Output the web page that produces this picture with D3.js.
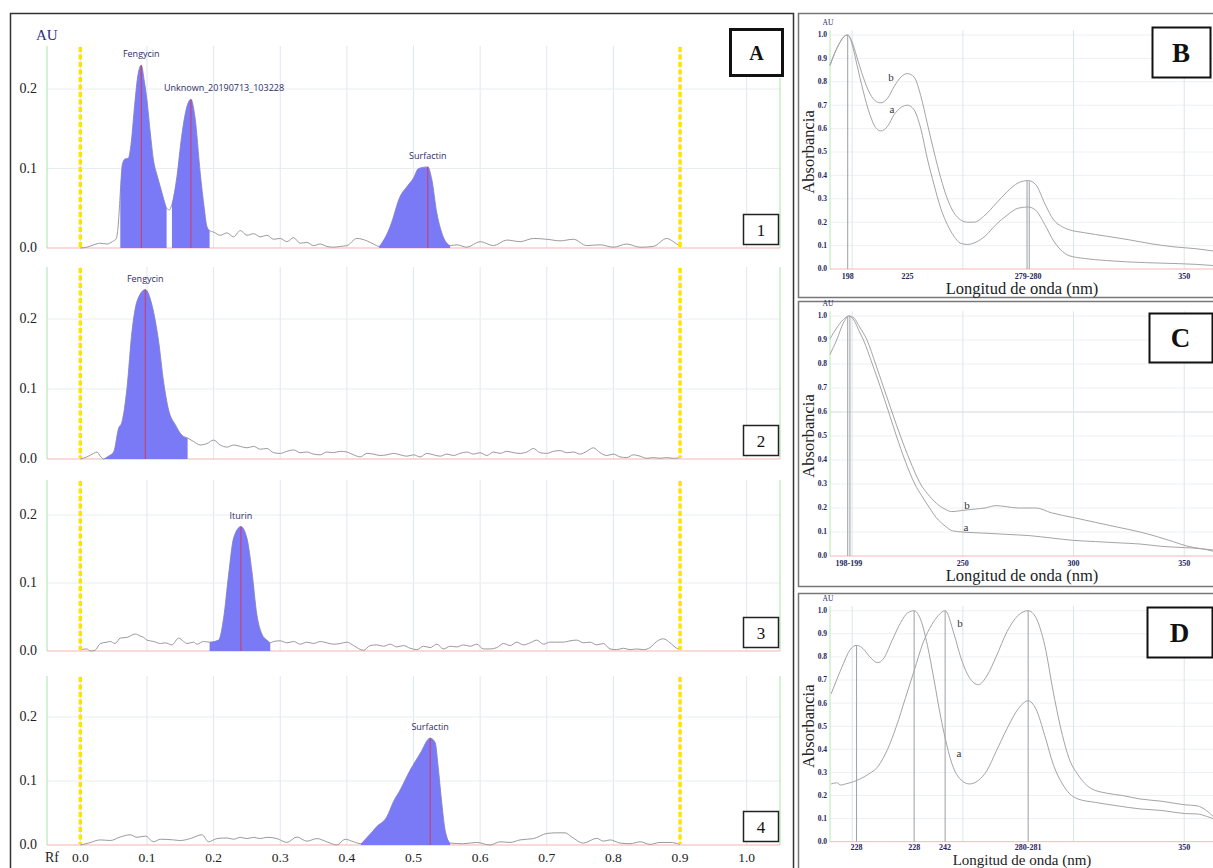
<!DOCTYPE html>
<html>
<head>
<meta charset="utf-8">
<script src="https://cdn.jsdelivr.net/npm/d3@7"></script>
<style>
  body { margin: 0; background: #fff; }
  svg { display: block; }
</style>
</head>
<body>
<svg id="chart" width="1213" height="868"></svg>
<script>
// ---------- Panel A: TLC densitograms, [Rf, AU] ----------
const trace1 = [
  [0,0],[0.01,0.001],[0.02,0.004],[0.03,0.006],[0.04,0.005],[0.048,0.008],[0.054,0.012],[0.057,0.03],
  [0.06,0.07],[0.063,0.105],[0.067,0.112],[0.072,0.113],[0.076,0.13],[0.081,0.175],[0.086,0.215],
  [0.0915,0.23],[0.096,0.21],[0.1,0.186],[0.105,0.145],[0.1095,0.112],[0.115,0.092],[0.12,0.077],
  [0.125,0.062],[0.1295,0.05],[0.1335,0.048],[0.1375,0.055],[0.145,0.09],[0.152,0.14],[0.16,0.178],
  [0.166,0.187],[0.172,0.165],[0.18,0.094],[0.186,0.05],[0.19,0.027],[0.194,0.022],[0.2,0.02],
  [0.21,0.016],[0.22,0.019],[0.23,0.014],[0.24,0.022],[0.25,0.016],[0.26,0.018],[0.27,0.014],
  [0.28,0.016],[0.29,0.011],[0.3,0.012],[0.31,0.008],[0.32,0.013],[0.33,0.006],[0.34,0.007],
  [0.35,0.003],[0.36,0.005],[0.37,0.002],[0.38,0.001],[0.39,0.002],[0.4,0.003],[0.415,0.012],
  [0.43,0.009],[0.44,0.005],[0.4485,0.002],[0.465,0.027],[0.48,0.065],[0.49,0.077],[0.5,0.088],
  [0.5075,0.1],[0.5215,0.102],[0.5275,0.086],[0.535,0.044],[0.5425,0.019],[0.555,0.003],
  [0.565,0.004],[0.58,0.001],[0.6,0.008],[0.62,0.003],[0.64,0.01],[0.66,0.008],[0.68,0.012],
  [0.7,0.011],[0.72,0.009],[0.74,0.011],[0.76,0.003],[0.78,0.004],[0.8,0.001],[0.82,0.005],
  [0.84,0.001],[0.86,0.002],[0.88,0.012],[0.89,0.008],[0.9,0.002]
];
const shade1 = [[0.06,0.1295],[0.1375,0.194],[0.4485,0.555]];
const peaks1 = [[0.0915,'Fengycin'],[0.166,'Unknown_20190713_103228'],[0.5215,'Surfactin']];

const trace2 = [
  [0,0],[0.01,0.003],[0.02,0.008],[0.025,0.01],[0.03,0.004],[0.035,0],[0.042,0.004],[0.05,0.01],
  [0.0575,0.044],[0.0625,0.053],[0.07,0.101],[0.0775,0.182],[0.085,0.225],[0.0975,0.242],
  [0.1075,0.22],[0.1175,0.168],[0.125,0.11],[0.1325,0.07],[0.1425,0.049],[0.1525,0.034],
  [0.161,0.03],[0.17,0.025],[0.18,0.02],[0.19,0.022],[0.2,0.027],[0.21,0.02],[0.22,0.017],
  [0.23,0.02],[0.24,0.018],[0.25,0.016],[0.26,0.018],[0.27,0.014],[0.28,0.015],[0.29,0.009],
  [0.3,0.008],[0.31,0.011],[0.32,0.013],[0.33,0.009],[0.34,0.01],[0.35,0.007],[0.36,0.006],
  [0.37,0.01],[0.38,0.009],[0.39,0.011],[0.4,0.01],[0.41,0.006],[0.42,0.003],[0.43,0.008],
  [0.44,0.007],[0.45,0.005],[0.46,0.006],[0.47,0.008],[0.48,0.006],[0.49,0.004],[0.5,0.006],
  [0.51,0.003],[0.52,0.008],[0.53,0.006],[0.54,0.004],[0.55,0.007],[0.56,0.005],[0.57,0.008],
  [0.58,0.01],[0.59,0.007],[0.6,0.009],[0.61,0.005],[0.62,0.01],[0.63,0.008],[0.64,0.011],
  [0.65,0.009],[0.66,0.008],[0.67,0.01],[0.68,0.015],[0.69,0.009],[0.7,0.008],[0.71,0.011],
  [0.72,0.012],[0.73,0.009],[0.74,0.01],[0.75,0.007],[0.76,0.011],[0.77,0.016],[0.78,0.009],
  [0.79,0.005],[0.8,0.007],[0.81,0.003],[0.82,0.002],[0.83,0.006],[0.84,0.004],[0.85,0.001],
  [0.86,0.002],[0.87,0.001],[0.88,0.002],[0.89,0.001],[0.9,0.002]
];
const shade2 = [[0.035,0.161]];
const peaks2 = [[0.0975,'Fengycin']];

const trace3 = [
  [0,0.002],[0.01,0.003],[0.015,0],[0.022,0.001],[0.03,0.011],[0.04,0.013],[0.045,0.014],
  [0.052,0.011],[0.06,0.019],[0.07,0.02],[0.0825,0.025],[0.09,0.022],[0.095,0.02],[0.1,0.016],
  [0.11,0.014],[0.12,0.011],[0.1275,0.012],[0.1375,0.009],[0.1475,0.019],[0.155,0.014],
  [0.16,0.011],[0.17,0.013],[0.175,0.01],[0.185,0.014],[0.194,0.013],[0.2075,0.016],[0.215,0.048],
  [0.2225,0.112],[0.23,0.166],[0.241,0.183],[0.25,0.166],[0.2575,0.117],[0.265,0.053],
  [0.2725,0.025],[0.28,0.016],[0.285,0.012],[0.29,0.014],[0.3,0.015],[0.31,0.012],[0.32,0.014],
  [0.33,0.01],[0.34,0.013],[0.35,0.011],[0.36,0.014],[0.37,0.012],[0.38,0.01],[0.39,0.011],
  [0.4,0.013],[0.41,0.008],[0.425,0.001],[0.435,0.008],[0.445,0.009],[0.455,0.007],[0.465,0.01],
  [0.475,0.006],[0.485,0.008],[0.495,0.004],[0.505,0.002],[0.515,0.007],[0.525,0.005],
  [0.535,0.01],[0.545,0.003],[0.555,0.007],[0.565,0.006],[0.575,0.009],[0.585,0.007],
  [0.595,0.01],[0.605,0.003],[0.615,0.003],[0.625,0.005],[0.635,0.011],[0.645,0.008],
  [0.655,0.013],[0.665,0.009],[0.675,0.012],[0.685,0.016],[0.695,0.01],[0.705,0.013],
  [0.715,0.013],[0.725,0.013],[0.735,0.015],[0.745,0.016],[0.755,0.012],[0.765,0.013],
  [0.775,0.009],[0.785,0.011],[0.795,0.003],[0.805,0.002],[0.815,0.004],[0.825,0.002],
  [0.835,0.003],[0.845,0.002],[0.855,0.005],[0.865,0.014],[0.875,0.018],[0.885,0.012],
  [0.895,0.004],[0.9,0.002]
];
const shade3 = [[0.194,0.285]];
const peaks3 = [[0.241,'Iturin']];

const trace4 = [
  [0,0],[0.0125,0.003],[0.03,0.008],[0.045,0.007],[0.06,0.0125],[0.075,0.016],[0.085,0.012],
  [0.0975,0.014],[0.11,0.005],[0.12,0.009],[0.14,0.008],[0.15,0.007],[0.165,0.01],[0.1825,0.016],
  [0.1925,0.005],[0.205,0.01],[0.22,0.011],[0.23,0.009],[0.24,0.012],[0.25,0.01],[0.26,0.012],
  [0.27,0.01],[0.28,0.012],[0.295,0.01],[0.31,0.004],[0.325,0.0125],[0.34,0.006],[0.355,0.01],
  [0.37,0.005],[0.385,0],[0.3975,0.009],[0.41,0.005],[0.421,0.002],[0.445,0.029],[0.46,0.044],
  [0.47,0.068],[0.48,0.086],[0.495,0.117],[0.51,0.143],[0.525,0.167],[0.5325,0.16],[0.5375,0.117],
  [0.5425,0.065],[0.5475,0.023],[0.555,0.003],[0.575,0.002],[0.595,0.004],[0.615,0],[0.63,0.005],
  [0.645,0.004],[0.66,0.008],[0.68,0.01],[0.7,0.018],[0.715,0.019],[0.7275,0.019],[0.7375,0.0125],
  [0.755,0.003],[0.775,0.0104],[0.785,0.006],[0.795,0.008],[0.81,0.003],[0.825,0.002],
  [0.84,0.005],[0.855,0.001],[0.87,0.004],[0.885,0.004],[0.9,0.001]
];
const shade4 = [[0.421,0.555]];
const peaks4 = [[0.525,'Surfactin']];

const rfTicks = [0,0.1,0.2,0.3,0.4,0.5,0.6,0.7,0.8,0.9,1.0];
const auTicks = [0,0.1,0.2];
const solventFront = [0,0.9];

// ---------- Panels B, C, D: UV spectra, [nm, absorbance] ----------
const specBa = [
  [190,0.87],[192,0.92],[194,0.96],[196,0.99],[198,1.0],[200,0.96],[202,0.88],[205,0.76],[208,0.66],
  [211,0.6],[213,0.59],[216,0.61],[219,0.66],[222,0.69],[225,0.7],[228,0.68],[231,0.6],[234,0.47],
  [237,0.36],[240,0.26],[243,0.19],[246,0.14],[249,0.11],[252,0.105],[256,0.115],[260,0.14],
  [265,0.19],[270,0.23],[275,0.26],[279.5,0.265],[283,0.25],[287,0.19],[291,0.12],[295,0.075],
  [298,0.057],[305,0.045],[315,0.036],[325,0.03],[340,0.025],[355,0.02],[363,0.015]
];
const specBb = [
  [190,0.87],[192,0.92],[194,0.96],[196,0.99],[198,1.0],[200,0.97],[202,0.91],[205,0.82],[208,0.75],
  [211,0.715],[213,0.71],[216,0.73],[219,0.78],[222,0.82],[225,0.835],[228,0.82],[231,0.74],
  [234,0.62],[237,0.5],[240,0.39],[243,0.3],[246,0.24],[249,0.21],[252,0.2],[255,0.2],[260,0.23],
  [265,0.28],[270,0.33],[275,0.368],[279.5,0.378],[283,0.36],[287,0.28],[291,0.21],[295,0.18],
  [298,0.168],[305,0.155],[315,0.14],[325,0.125],[335,0.108],[345,0.095],[355,0.087],[363,0.077]
];
const ticksB = [198,225,279.5,350];
const tickLabelsB = ['198','225','279-280','350'];
const markersB = [198,279,280];

const specCa = [
  [190,0.84],[193,0.9],[196,0.97],[198.5,1.0],[201,0.98],[203,0.94],[205.1,0.9],[209.1,0.8],
  [212.9,0.7],[216.5,0.6],[220,0.5],[223.8,0.4],[228.3,0.3],[231.5,0.25],[235,0.2],[238,0.16],
  [242,0.125],[245.3,0.105],[250,0.1],[260,0.095],[270,0.09],[280,0.085],[290,0.075],[300,0.065],
  [310,0.06],[320,0.055],[330,0.05],[340,0.04],[350,0.035],[358,0.03],[363,0.02]
];
const specCb = [
  [190,0.905],[193,0.95],[196,0.985],[198.5,1.0],[201,0.99],[203,0.96],[206.7,0.9],[210.6,0.8],
  [214.3,0.7],[218,0.6],[221.8,0.5],[226,0.4],[230.9,0.3],[234,0.26],[238,0.22],[242,0.195],
  [245,0.185],[250,0.19],[255,0.195],[260,0.2],[265,0.21],[270,0.205],[275,0.2],[283,0.2],
  [290,0.18],[300,0.16],[310,0.14],[320,0.12],[330,0.1],[338,0.08],[345,0.06],[351,0.042],
  [358,0.03],[363,0.025]
];
const ticksC = [198.5,250,300,350];
const tickLabelsC = ['198-199','250','300','350'];
const markersC = [198,199];

const specDa = [
  [190.5,0.64],[193,0.7],[196,0.77],[199,0.83],[202,0.85],[205,0.835],[208,0.8],[211.5,0.775],
  [214,0.79],[218,0.87],[222,0.95],[225,0.99],[228,1.0],[231,0.96],[234,0.85],[237,0.7],[240,0.54],
  [242,0.45],[245,0.34],[248,0.28],[253,0.25],[257,0.265],[261,0.31],[265,0.39],[270,0.49],
  [275,0.575],[279.5,0.61],[283,0.575],[287,0.46],[291,0.33],[295,0.25],[298,0.21],[302,0.185],
  [310,0.17],[320,0.155],[330,0.142],[340,0.135],[350,0.122],[356,0.12],[360,0.11],[363,0.1]
];
const specDb = [
  [190.5,0.25],[193,0.255],[195,0.245],[197,0.25],[199,0.255],[202,0.265],[207,0.29],[212,0.33],
  [216,0.4],[220,0.5],[224,0.62],[228,0.74],[232,0.86],[236,0.94],[239,0.98],[242,1.0],[246,0.9],
  [249,0.8],[253,0.71],[257,0.68],[261,0.72],[265,0.8],[270,0.91],[275,0.98],[279.5,1.0],
  [283,0.97],[287,0.85],[291,0.64],[295,0.46],[298,0.36],[302,0.29],[308,0.23],[315,0.21],
  [322,0.2],[330,0.185],[340,0.175],[350,0.16],[356,0.155],[360,0.135],[363,0.11]
];
const ticksD = [202,228,242,279.5,350];
const tickLabelsD = ['228','228','242','280-281','350'];
const markersD = [202,228,242,279.5];

const absTicks = [0,0.1,0.2,0.3,0.4,0.5,0.6,0.7,0.8,0.9,1.0];
const nmGrid = [200,250,300,350];

// ---------- drawing ----------
const svg = d3.select('#chart');
const serif = '"Liberation Serif", "Times New Roman", serif';
const sans = '"Open Sans", "Noto Sans", sans-serif';
const fillBlue = '#7a7af6';

svg.append('rect').attr('width', 1213).attr('height', 868).attr('fill', '#fff');

// linear lookup on a trace
const valueAt = (pts, x) => {
  for (let i = 1; i < pts.length; i++) {
    if (x <= pts[i][0]) {
      const [x0, y0] = pts[i - 1], [x1, y1] = pts[i];
      return y0 + (y1 - y0) * (x - x0) / (x1 - x0);
    }
  }
  return pts[pts.length - 1][1];
};

// panel A frame
svg.append('rect')
  .attr('x', 10.5).attr('y', 13.5).attr('width', 783).attr('height', 900)
  .attr('fill', 'none').attr('stroke', '#333').attr('stroke-width', 1.5);

const xRf = d3.scaleLinear().domain([-0.05, 1.05]).range([47, 780]);

const subplots = [
  { trace: trace1, shade: shade1, peaks: peaks1, top: 46, base: 248, y02: 89, rightTop: 78, num: '1' },
  { trace: trace2, shade: shade2, peaks: peaks2, top: 267, base: 459, y02: 319, num: '2' },
  { trace: trace3, shade: shade3, peaks: peaks3, top: 480, base: 651, y02: 515, num: '3' },
  { trace: trace4, shade: shade4, peaks: peaks4, top: 676, base: 845, y02: 717, num: '4' }
];

subplots.forEach(sp => {
  const y = d3.scaleLinear().domain([0, 0.2]).range([sp.base, sp.y02]);
  const g = svg.append('g');

  // grid
  g.selectAll('.vg').data(rfTicks).enter().append('line')
    .attr('x1', d => xRf(d)).attr('x2', d => xRf(d))
    .attr('y1', sp.top).attr('y2', sp.base)
    .attr('stroke', '#dfe7f1').attr('stroke-width', 1);
  g.selectAll('.hg').data(auTicks.slice(1)).enter().append('line')
    .attr('x1', xRf(-0.05)).attr('x2', xRf(1.05))
    .attr('y1', d => y(d)).attr('y2', d => y(d))
    .attr('stroke', '#e8edf0').attr('stroke-width', 1);

  // green side axes
  g.append('line').attr('x1', xRf(-0.05)).attr('x2', xRf(-0.05))
    .attr('y1', sp.top).attr('y2', sp.base).attr('stroke', '#a8e6a8');
  g.append('line').attr('x1', xRf(1.05)).attr('x2', xRf(1.05))
    .attr('y1', sp.rightTop || sp.top).attr('y2', sp.base).attr('stroke', '#a8e6a8');

  // baseline
  g.append('line').attr('x1', xRf(-0.05)).attr('x2', xRf(1.05))
    .attr('y1', y(0)).attr('y2', y(0)).attr('stroke', '#f6b4b4').attr('stroke-width', 1.2);

  // trace
  const line = d3.line().x(d => xRf(d[0])).y(d => y(d[1])).curve(d3.curveMonotoneX);
  g.append('path').datum(sp.trace).attr('d', line)
    .attr('fill', 'none').attr('stroke', '#9a9a9a').attr('stroke-width', 1);

  // shaded peaks
  const area = d3.area().x(d => xRf(d[0])).y0(y(0)).y1(d => y(d[1])).curve(d3.curveMonotoneX);
  sp.shade.forEach(([a, b]) => {
    const pts = [[a, valueAt(sp.trace, a)]]
      .concat(sp.trace.filter(p => p[0] > a && p[0] < b))
      .concat([[b, valueAt(sp.trace, b)]]);
    g.append('path').datum(pts).attr('d', area).attr('fill', fillBlue);
  });

  // peak markers and names
  sp.peaks.forEach(([rf, name]) => {
    const v = valueAt(sp.trace, rf);
    g.append('line').attr('x1', xRf(rf)).attr('x2', xRf(rf))
      .attr('y1', y(0)).attr('y2', y(v))
      .attr('stroke', '#d23a62').attr('stroke-width', 1);
    const long = name.length > 12;
    g.append('text')
      .attr('x', long ? xRf(rf) - 27 : xRf(rf))
      .attr('y', y(v) - 8)
      .attr('text-anchor', long ? 'start' : 'middle')
      .attr('font-family', sans).attr('font-size', 9).attr('fill', '#2d2d66')
      .text(name);
  });

  // origin and solvent front
  g.selectAll('.sf').data(solventFront).enter().append('line')
    .attr('x1', d => xRf(d)).attr('x2', d => xRf(d))
    .attr('y1', sp.top + 1).attr('y2', sp.base - 1)
    .attr('stroke', '#ffe400').attr('stroke-width', 3.5)
    .attr('stroke-dasharray', '5,2.5');

  // y tick labels
  g.selectAll('.yl').data(auTicks).enter().append('text')
    .attr('x', 37).attr('y', d => y(d)).attr('dy', '0.32em')
    .attr('text-anchor', 'end')
    .attr('font-family', serif).attr('font-size', 14).attr('fill', '#222')
    .text(d => d.toFixed(1));

  // number box
  g.append('rect').attr('x', 743.5).attr('y', sp.base - 33.5).attr('width', 35).attr('height', 30)
    .attr('fill', '#fff').attr('stroke', '#222').attr('stroke-width', 1.5);
  g.append('text').attr('x', 761).attr('y', sp.base - 12.5).attr('text-anchor', 'middle')
    .attr('font-family', serif).attr('font-size', 17).attr('fill', '#111').text(sp.num);
});

// AU label, Rf axis
svg.append('text').attr('x', 36).attr('y', 40)
  .attr('font-family', serif).attr('font-size', 15).attr('fill', '#2e2e82').text('AU');
svg.append('text').attr('x', 45).attr('y', 862)
  .attr('font-family', serif).attr('font-size', 14).attr('fill', '#222').text('Rf');
svg.selectAll('.rfl').data(rfTicks).enter().append('text')
  .attr('x', d => xRf(d)).attr('y', 862).attr('text-anchor', 'middle')
  .attr('font-family', serif).attr('font-size', 13.5).attr('fill', '#222')
  .text(d => d.toFixed(1));

// box A
svg.append('rect').attr('x', 730.5).attr('y', 29.5).attr('width', 52).attr('height', 46)
  .attr('fill', '#fff').attr('stroke', '#111').attr('stroke-width', 3);
svg.append('text').attr('x', 756.5).attr('y', 60).attr('text-anchor', 'middle')
  .attr('font-family', serif).attr('font-weight', 'bold').attr('font-size', 20).attr('fill', '#111')
  .text('A');

// ---------- spectra ----------
const xNm = d3.scaleLinear().domain([190, 363]).range([830, 1213]);

const spectra = [
  { a: specBa, b: specBb, ticks: ticksB, labels: tickLabelsB, markers: markersB,
    frameTop: 13, frameH: 284, y1: 35, y0: 269, tickY: 279, titleY: 294, titleSize: 16.5,
    letter: 'B', box: [1152, 27, 58, 50], aPos: [892, 113], bPos: [891, 81] },
  { a: specCa, b: specCb, ticks: ticksC, labels: tickLabelsC, markers: markersC,
    frameTop: 301, frameH: 285, y1: 316, y0: 556, tickY: 566, titleY: 581, titleSize: 16.5,
    letter: 'C', box: [1149, 313, 63, 49], aPos: [966, 531], bPos: [967, 509] },
  { a: specDa, b: specDb, ticks: ticksD, labels: tickLabelsD, markers: markersD,
    frameTop: 593, frameH: 300, y1: 610.7, y0: 841.7, tickY: 849.5, titleY: 864.5, titleSize: 15,
    letter: 'D', box: [1147, 607, 65, 50], aPos: [959, 757], bPos: [960, 627] }
];

spectra.forEach(sp => {
  const y = d3.scaleLinear().domain([0, 1]).range([sp.y0, sp.y1]);
  const g = svg.append('g');

  g.append('rect').attr('x', 798.5).attr('y', sp.frameTop + 0.5)
    .attr('width', 420).attr('height', sp.frameH)
    .attr('fill', '#fff').attr('stroke', '#777').attr('stroke-width', 1.5);

  // grid
  g.selectAll('.hg').data(absTicks.slice(1)).enter().append('line')
    .attr('x1', xNm(190)).attr('x2', xNm(363))
    .attr('y1', d => y(d)).attr('y2', d => y(d))
    .attr('stroke', d => d === 0.6 && sp.letter === 'C' ? '#d4d8dc' : '#eef0f3');
  g.selectAll('.vg').data(nmGrid).enter().append('line')
    .attr('x1', d => xNm(d)).attr('x2', d => xNm(d))
    .attr('y1', y(1.02)).attr('y2', y(0))
    .attr('stroke', '#dbe6ec');

  g.append('line').attr('x1', xNm(190)).attr('x2', xNm(190))
    .attr('y1', y(1.02)).attr('y2', y(0)).attr('stroke', '#b4e8b4');
  g.append('line').attr('x1', xNm(190)).attr('x2', xNm(363))
    .attr('y1', y(0)).attr('y2', y(0)).attr('stroke', '#f4b8b8');

  // peak wavelength markers
  g.selectAll('.mk').data(sp.markers).enter().append('line')
    .attr('x1', d => xNm(d)).attr('x2', d => xNm(d))
    .attr('y1', y(0))
    .attr('y2', d => y(Math.max(valueAt(sp.a, d), valueAt(sp.b, d))))
    .attr('stroke', '#9aa0a4').attr('stroke-width', 1);

  const line = d3.line().x(d => xNm(d[0])).y(d => y(d[1])).curve(d3.curveMonotoneX);
  [sp.a, sp.b].forEach(s => {
    g.append('path').datum(s).attr('d', line)
      .attr('fill', 'none').attr('stroke', '#a4a4a4').attr('stroke-width', 1);
  });

  // y labels
  g.selectAll('.yl').data(absTicks).enter().append('text')
    .attr('x', 827).attr('y', d => y(d)).attr('dy', '0.32em').attr('text-anchor', 'end')
    .attr('font-family', serif).attr('font-weight', 'bold').attr('font-size', 7.5)
    .attr('fill', '#24245e').text(d => d.toFixed(1));
  g.append('text').attr('x', 828).attr('y', sp.y1 - 10).attr('text-anchor', 'middle')
    .attr('font-family', serif).attr('font-size', 7.5).attr('fill', '#24245e').text('AU');

  // x labels
  g.selectAll('.xl').data(sp.ticks).enter().append('text')
    .attr('x', d => xNm(d)).attr('y', sp.tickY).attr('text-anchor', 'middle')
    .attr('font-family', serif).attr('font-weight', 'bold').attr('font-size', 8)
    .attr('fill', '#24245e').text((d, i) => sp.labels[i]);

  g.append('text').attr('x', 1022).attr('y', sp.titleY).attr('text-anchor', 'middle')
    .attr('font-family', serif).attr('font-size', sp.titleSize).attr('fill', '#222')
    .text('Longitud de onda (nm)');
  g.append('text')
    .attr('transform', `translate(814,${(sp.y0 + sp.y1) / 2}) rotate(-90)`)
    .attr('text-anchor', 'middle')
    .attr('font-family', serif).attr('font-size', 16.5).attr('fill', '#222')
    .text('Absorbancia');

  // curve letters
  g.append('text').attr('x', sp.aPos[0]).attr('y', sp.aPos[1]).attr('text-anchor', 'middle')
    .attr('font-family', serif).attr('font-size', 11).attr('fill', '#333').text('a');
  g.append('text').attr('x', sp.bPos[0]).attr('y', sp.bPos[1]).attr('text-anchor', 'middle')
    .attr('font-family', serif).attr('font-size', 11).attr('fill', '#333').text('b');

  // letter box
  const [bx, by, bw, bh] = sp.box;
  g.append('rect').attr('x', bx + 0.5).attr('y', by + 0.5).attr('width', bw).attr('height', bh)
    .attr('fill', '#fff').attr('stroke', '#111').attr('stroke-width', 2);
  g.append('text').attr('x', bx + bw / 2).attr('y', by + bh / 2 + 9.5).attr('text-anchor', 'middle')
    .attr('font-family', serif).attr('font-weight', 'bold').attr('font-size', 27).attr('fill', '#111')
    .text(sp.letter);
});
</script>
</body>
</html>
